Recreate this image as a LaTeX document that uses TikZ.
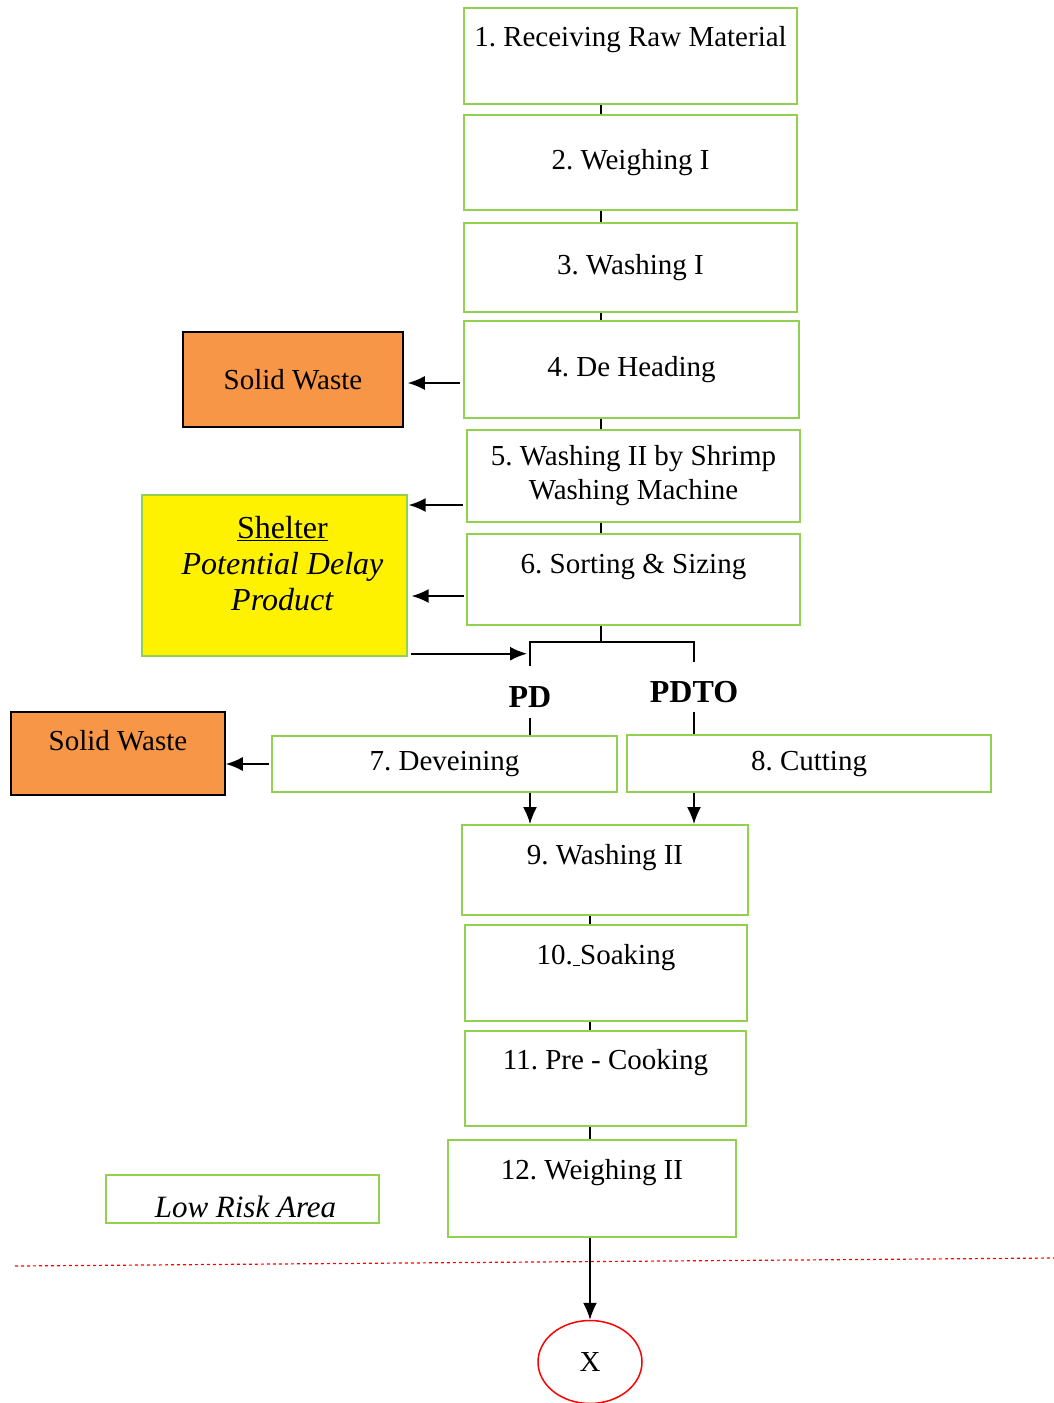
\documentclass[tikz,border=0pt]{standalone}
\usepackage{fontspec}
\setmainfont{Liberation Serif}
\usetikzlibrary{arrows.meta,shapes.geometric}
\definecolor{stepgreen}{HTML}{92D050}
\definecolor{wasteorange}{HTML}{F79646}
\frenchspacing
\begin{document}
\begin{tikzpicture}[x=1pt, y=-1pt, font=\fontsize{29}{34}\selectfont,
        stage/.style={draw=stepgreen, line width=2pt, inner sep=2pt, align=center},
        sz/.style 2 args={minimum width=#1pt, minimum height=#2pt},
        raised/.style={text height=20pt, text depth=#1pt},
        waste/.style={draw, line width=1.6pt, fill=wasteorange, inner sep=2pt},
        link/.style={line width=1.6pt},
        arr/.style={line width=1.6pt, -{Latex[length=17pt,width=14pt]}},
        tag/.style={font=\fontsize{32}{36}\selectfont\bfseries, inner sep=0pt,
                    text height=30pt, text depth=0pt}]
      \useasboundingbox (0,0) rectangle (1054,1403);
      \coordinate (trunk)  at (601,0);
      \coordinate (trunkb) at (590,0);
      \node[stage, sz={333}{96}, raised=40] (s1)  at (630.5,56)    {1. Receiving Raw Material};
      \node[stage, sz={333}{95}]            (s2)  at (630.5,162.5) {2. Weighing I};
      \node[stage, sz={333}{89}]            (s3)  at (630.5,267.5) {3. Washing I};
      \node[stage, sz={335}{97}]            (s4)  at (631.5,369.5) {4. De Heading};
      \node[stage, sz={333}{92}]            (s5)  at (633.5,476)   {5. Washing II by Shrimp\\Washing Machine};
      \node[stage, sz={333}{91}, raised=33] (s6)  at (633.5,579.5) {6. Sorting \& Sizing};
      \node[stage, sz={345}{56}]            (s7)  at (444.5,764)   {7. Deveining};
      \node[stage, sz={364}{57}]            (s8)  at (809,763.5)   {8. Cutting};
      \node[stage, sz={286}{90}, raised=32] (s9)  at (605,870)     {9. Washing II};
      \node[stage, sz={282}{96}, raised=38] (s10) at (606,973)     {10.\underline{\ }Soaking};
      \node[stage, sz={281}{95}, raised=39] (s11) at (605.5,1078.5){11. Pre - Cooking};
      \node[stage, sz={288}{97}, raised=39] (s12) at (592,1188.5)  {12. Weighing II};
      \node[waste, sz={220}{95}]            (sw1) at (293,379.5)   {Solid Waste};
      \node[waste, sz={214}{83}, raised=27] (sw2) at (118,753.5)   {Solid Waste};
      \node[draw=stepgreen, line width=1.4pt, fill=yellow, sz={265}{161}, inner sep=0pt,
            font=\fontsize{32}{36}\selectfont] (shelter) at (274.5,575.5)
            {\begin{tabular}{@{\hspace{16pt}}c@{}}
               \underline{Shelter}\\\textit{Potential Delay}\\\textit{Product}\\[-20pt]\mbox{}
             \end{tabular}};
      \node[draw=stepgreen, line width=2pt, sz={273}{48}, inner sep=0pt,
            text height=36pt, text depth=0pt, font=\fontsize{31}{34}\selectfont\itshape]
            (lowrisk) at (242.5,1199) {\hspace*{6pt}Low Risk Area};
      \node[tag, minimum height=52pt] (pd)   at (530,692) {PD};
      \node[tag, minimum height=50pt] (pdto) at (694,687) {PDTO};
      \node[draw=red, line width=1.5pt, ellipse, sz={104}{83}, inner sep=0pt] (endx) at (590,1362) {X};
      \coordinate (split)  at (530,642);
      \coordinate (splitr) at (694,642);
      \foreach \a/\b in {s1/s2, s2/s3, s3/s4, s4/s5, s5/s6}
        \draw[link] (\a.south -| trunk) -- (\b.north -| trunk);
      \foreach \a/\b in {s9/s10, s10/s11, s11/s12}
        \draw[link] (\a.south -| trunkb) -- (\b.north -| trunkb);
      \draw[link] (s6.south -| trunk) -- (trunk |- split);
      \draw[link] (pd.north) -- (split) -- (splitr) -- (pdto.north);
      \draw[link] (pd.south) -- (pd.south |- s7.north);
      \draw[link] (pdto.south) -- (pdto.south |- s8.north);
      \draw[arr, shorten <=3pt, shorten >=4pt] ([yshift=-13.5pt]s4.west) -- ([yshift=-13.5pt]s4.west -| sw1.east);
      \draw[arr, shorten <=3pt, shorten >=1pt] ([yshift=-29pt]s5.west) -- ([yshift=-29pt]s5.west -| shelter.east);
      \draw[arr, shorten <=2pt, shorten >=4pt] ([yshift=-16.5pt]s6.west) -- ([yshift=-16.5pt]s6.west -| shelter.east);
      \draw[arr, shorten <=3pt, shorten >=3pt] ([yshift=3pt]shelter.south east) -- ([yshift=3pt]shelter.south east -| split);
      \draw[arr, shorten <=2pt] (s7.west) -- (s7.west -| sw2.east);
      \draw[arr] (pd |- s7.south) -- (pd |- s9.north);
      \draw[arr] (pdto |- s8.south) -- (pdto |- s9.north);
      \draw[arr] (s12.south -| endx) -- (endx.north);
      \draw[red, dashed, line width=1.2pt] (15,1266) -- (1054,1258);
    \end{tikzpicture}
\end{document}
